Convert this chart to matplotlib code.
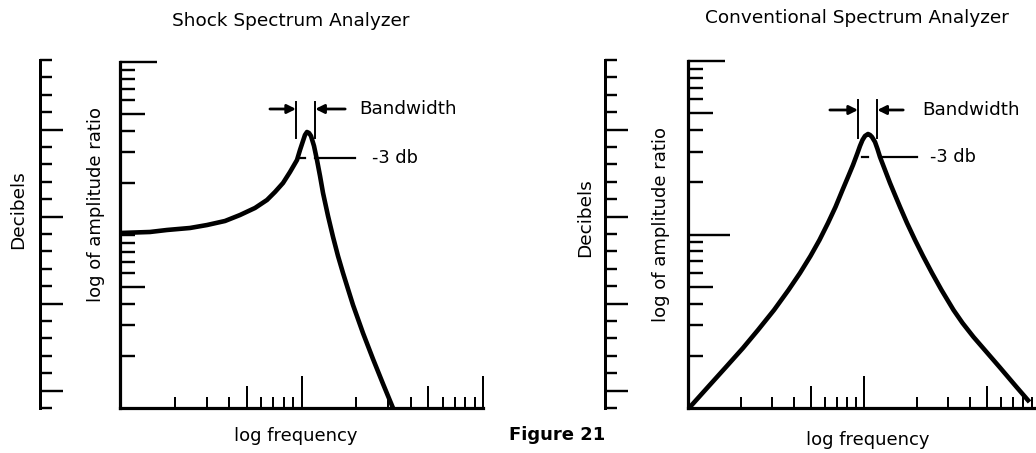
import matplotlib
matplotlib.use("Agg")
import matplotlib.pyplot as plt
from matplotlib.ticker import NullFormatter, NullLocator

# ---------------- data ----------------
shock_freq = [1.00, 1.463, 1.815, 2.431, 3.015, 3.789, 4.585, 5.544, 6.456, 7.145,
              7.910, 8.644, 9.445, 9.811, 10.19, 10.45, 10.72, 11.00, 11.28, 11.72,
              12.17, 12.65, 13.14, 14.00, 14.92, 15.89, 16.93, 18.04, 19.22, 21.82,
              24.77, 28.12, 31.92]
shock_amp = [10.27, 10.41, 10.69, 10.98, 11.42, 12.05, 13.05, 14.33, 15.94, 17.73,
             19.98, 23.13, 27.14, 30.99, 34.94, 37.84, 39.39, 38.87, 37.35, 32.70,
             27.14, 21.93, 17.49, 12.88, 9.74, 7.56, 6.03, 4.87, 3.94, 2.71,
             1.92, 1.38, 1.00]

conv_freq = [1.026, 1.299, 1.644, 2.054, 2.499, 3.083, 3.724, 4.329, 4.966, 5.586,
             6.244, 6.887, 7.548, 8.111, 8.660, 9.185, 9.490, 9.806, 10.13, 10.54,
             10.82, 11.10, 11.55, 11.93, 12.33, 13.16, 14.05, 15.00, 16.02, 17.55,
             19.49, 21.64, 24.34, 27.56, 32.25, 36.28, 41.90, 49.66, 58.87, 73.53,
             87.17]
conv_amp = [1.013, 1.322, 1.723, 2.218, 2.816, 3.672, 4.787, 5.999, 7.517, 9.297,
            11.65, 14.41, 18.05, 21.45, 25.15, 29.49, 32.37, 35.05, 36.96, 37.96,
            37.46, 36.48, 34.13, 31.11, 27.97, 23.54, 19.81, 16.89, 14.41, 11.65,
            9.297, 7.517, 5.999, 4.787, 3.672, 3.090, 2.566, 2.103, 1.723, 1.322,
            1.083]

log_ticks = [2, 3, 4, 5, 6, 7, 8, 9, 10, 20, 30, 40, 50, 60, 70, 80, 90, 100]
db_ticks = list(range(21))
db_long = [1, 6, 11, 16]

titles = ["Shock Spectrum Analyzer", "Conventional Spectrum Analyzer"]
xlabel = "log frequency"
ylabel = "log of amplitude ratio"
dblabel = "Decibels"
bw_label = "Bandwidth"
db3_label = "-3 db"
fig_label = "Figure 21"

# ---------------- figure ----------------
plt.rcParams["font.family"] = ["DejaVu Sans"]
W, H = 1036, 453
fig = plt.figure(figsize=(W / 100, H / 100), dpi=100)
fig.patch.set_facecolor("white")

PT = 0.72  # points per pixel at dpi 100


def add_axes_px(x0, y0, x1, y1):
    return fig.add_axes([x0 / W, 1 - y1 / H, (x1 - x0) / W, (y1 - y0) / H])


def txt(px, py, s, **kw):
    fig.text(px / W, 1 - py / H, s, **kw)


def set_tick_lengths(axis, values, length_fn, width_px=2.6):
    for t, v in zip(axis.get_major_ticks(), values):
        t.tick1line.set_markersize(length_fn(v) * PT)
        t.tick1line.set_markeredgewidth(width_px * PT)
        t.tick2line.set_visible(False)


def db_scale(x0):
    ax = add_axes_px(x0, 60, x0 + 30, 408)
    ax.set_facecolor("none")
    for s in ["top", "right", "bottom"]:
        ax.spines[s].set_visible(False)
    ax.spines["left"].set_linewidth(3.0 * PT)
    ax.set_ylim(0, 20)
    ax.set_xticks([])
    ax.set_yticks(db_ticks)
    ax.yaxis.set_major_formatter(NullFormatter())
    ax.tick_params(axis="y", direction="in")
    set_tick_lengths(ax.yaxis, db_ticks, lambda v: 23 if v in db_long else 12,
                     2.4)
    return ax


def main_panel(x0, x1, ytop, freq, amp, ann, tick10):
    ax = add_axes_px(x0, ytop, x1, 408)
    ax.set_facecolor("none")
    ax.set_xscale("log")
    ax.set_yscale("log")
    ax.set_xlim(1, 100)
    ax.set_ylim(1, 100)
    for s in ["top", "right"]:
        ax.spines[s].set_visible(False)
    for s in ["left", "bottom"]:
        ax.spines[s].set_linewidth(3.2 * PT)
    ax.set_xticks(log_ticks)
    ax.set_yticks(log_ticks)
    for a in (ax.xaxis, ax.yaxis):
        a.set_major_formatter(NullFormatter())
        a.set_minor_locator(NullLocator())
        a.set_minor_formatter(NullFormatter())
    ax.tick_params(axis="both", which="both", direction="in")

    def ylen(v):
        if v == 100:
            return 37
        if v == 10:
            return tick10
        if v in (5, 50):
            return 25
        return 15

    def xlen(v):
        if v in (10, 100):
            return 32
        if v in (5, 50):
            return 22
        return 11

    set_tick_lengths(ax.yaxis, log_ticks, ylen, 2.4)
    set_tick_lengths(ax.xaxis, log_ticks, xlen, 2.0)

    ax.plot(freq, amp, color="black", lw=3.3, solid_joinstyle="round",
            solid_capstyle="butt", clip_on=False, zorder=5)

    xl, xr, yb, yt, ya, xa_l, xa_r, xbw, ydb, xdb0, xdb1, xtd, xd0, xd1 = ann
    # bandwidth limits
    ax.plot([xl, xl], [yb, yt], color="black", lw=1.4, clip_on=False)
    ax.plot([xr, xr], [yb, yt], color="black", lw=1.4, clip_on=False)
    arrow = dict(arrowstyle="-|>", color="black", lw=2.0, mutation_scale=13,
                 shrinkA=0, shrinkB=0)
    ax.annotate("", xy=(xl, ya), xytext=(xa_l, ya), arrowprops=arrow)
    ax.annotate("", xy=(xr, ya), xytext=(xa_r, ya), arrowprops=arrow)
    ax.text(xbw, ya, bw_label, fontsize=13.2, va="center", ha="left")
    # -3 db marker
    ax.plot([xdb0, xdb1], [ydb, ydb], color="black", lw=1.6, clip_on=False)
    ax.plot([xd0, xd1], [ydb, ydb], color="black", lw=1.6, clip_on=False)
    ax.text(xtd, ydb, db3_label, fontsize=12.8, va="center", ha="left")
    return ax


# left: Shock spectrum analyzer
db_scale(40)
main_panel(120, 483, 62, shock_freq, shock_amp,
           (9.33, 11.9, 36.4, 58.7, 53.5, 6.7, 17.4, 20.7,
            27.9, 11.9, 19.7, 24.4, 9.8, 10.4), 15)
# right: Conventional spectrum analyzer
db_scale(605)
main_panel(688, 1040, 61, conv_freq, conv_amp,
           (9.25, 11.9, 36.0, 59.6, 52.2, 6.4, 16.7, 21.4,
            28.0, 12.8, 20.0, 23.7, 9.7, 10.5), 42)

# texts
txt(291, 21, titles[0], fontsize=13.3, ha="center", va="center")
txt(857, 18, titles[1], fontsize=13.3, ha="center", va="center")
txt(18, 210, dblabel, fontsize=13.3, rotation=90, ha="center", va="center")
txt(585, 218, dblabel, fontsize=13.3, rotation=90, ha="center", va="center")
txt(96, 204, ylabel, fontsize=13, rotation=90, ha="center", va="center")
txt(661, 225, ylabel, fontsize=13, rotation=90, ha="center", va="center")
txt(296, 436, xlabel, fontsize=13, ha="center", va="center")
txt(868, 440, xlabel, fontsize=13, ha="center", va="center")
txt(557, 435, fig_label, fontsize=13, ha="center", va="center", fontweight="bold")

fig.savefig("out.png", dpi=100, facecolor="white")
